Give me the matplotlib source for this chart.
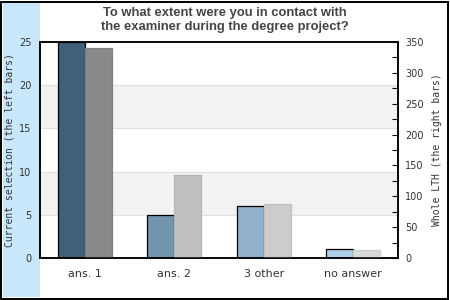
import matplotlib
matplotlib.use("Agg")
import matplotlib.pyplot as plt
from matplotlib.patches import Rectangle
import numpy as np

categories = ["ans. 1", "ans. 2", "3 other", "no answer"]
current = [25, 5, 6, 1]
lth = [340, 135, 88, 13]
left_colors = ["#3f5f7b", "#7394ad", "#8fb1cc", "#b0d0ea"]
right_colors = ["#898989", "#c0c0c0", "#cccccc", "#d9d9d9"]
right_edges = ["#808080", "#b5b5b5", "#c2c2c2", "#cdcdcd"]
title = "To what extent were you in contact with\nthe examiner during the degree project?"
left_label = "Current selection (the left bars)"
right_label = "Whole LTH (the right bars)"

W, H = 450, 300
fig = plt.figure(figsize=(W / 100, H / 100), dpi=100)
fig.patch.set_facecolor("white")

def px(x0, y0, x1, y1):
    return [x0 / W, 1 - y1 / H, (x1 - x0) / W, (y1 - y0) / H]

# blue band and outer border
fig.patches.append(Rectangle((3 / W, 1 - 297 / H), 37 / W, 294 / H,
                             transform=fig.transFigure, facecolor="#c8e7fb",
                             edgecolor="none", zorder=-1))
fig.patches.append(Rectangle((0.6 / W, 0.6 / H), (W - 2.2) / W, (H - 2.2) / H,
                             transform=fig.transFigure, facecolor="none",
                             edgecolor="black", linewidth=1.4, zorder=5))

ax = fig.add_axes(px(40, 42, 398, 258))
ax.set_facecolor("white")
x = np.arange(len(categories))
w = 0.3
ax.set_xlim(-0.5, len(categories) - 0.5)
ax.set_ylim(0, 25)
for lo, hi in [(5, 10), (15, 20)]:
    ax.axhspan(lo, hi, color="#f2f2f2", zorder=0, linewidth=0)
for yv in [5, 10, 15, 20]:
    ax.axhline(yv, color="#e0e0e0", linewidth=0.8, zorder=0.5)
ax.bar(x - w / 2, current, width=w, color=left_colors, edgecolor="black",
       linewidth=0.9, zorder=2)
ax.set_yticks([0, 5, 10, 15, 20, 25])
ax.tick_params(axis="y", length=0, pad=6, labelsize=7, labelcolor="#333333")
ax.set_xticks(x)
ax.set_xticklabels(categories)
ax.tick_params(axis="x", length=0, pad=8, labelsize=8, labelcolor="#333333")

ax2 = ax.twinx()
ax2.set_ylim(0, 350)
ax2.bar(x + w / 2, lth, width=w, color=right_colors, edgecolor=right_edges,
        linewidth=0.9, zorder=2)
ax2.set_yticks(np.arange(0, 351, 50))
ax2.set_yticks(np.arange(0, 351, 25), minor=True)
ax2.tick_params(axis="y", which="major", direction="in", length=4, width=0.8,
                pad=5, labelsize=7, labelcolor="#333333")
ax2.tick_params(axis="y", which="minor", direction="in", length=4, width=0.8)

for a in (ax, ax2):
    for s in a.spines.values():
        s.set_linewidth(1.1)
        s.set_color("black")

fig.text(9.5 / W, 1 - 150 / H, left_label, rotation=90, ha="center", va="center",
         family="DejaVu Sans Mono", fontsize=7, color="#333333")
fig.text(437 / W, 1 - 150 / H, right_label, rotation=90, ha="center", va="center",
         family="DejaVu Sans Mono", fontsize=7, color="#333333")

fig.text(225 / W, 1 - 20 / H, title, ha="center", va="center",
         family="Liberation Sans", weight="bold", fontsize=9.4,
         color="#444444", linespacing=1.15)

fig.savefig("out.png", dpi=100)
